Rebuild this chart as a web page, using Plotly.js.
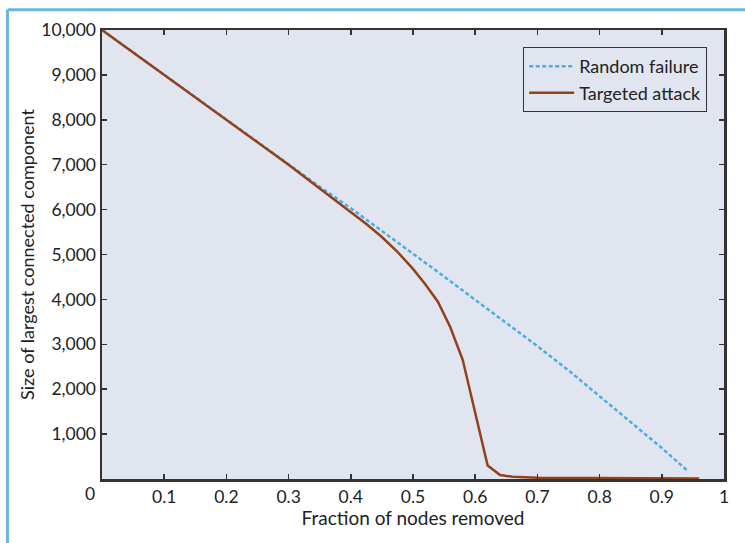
<!DOCTYPE html>
<html>
<head>
<meta charset="utf-8">
<script src="https://cdn.plot.ly/plotly-3.0.1.min.js"></script>
<style>html,body{margin:0;padding:0;background:#fff;}#chart{width:745px;height:543px;}</style>
</head>
<body>
<div id="chart"></div>
<script>
const randomX = [0, 0.05, 0.1, 0.15, 0.2, 0.25, 0.3, 0.35, 0.4, 0.45, 0.5, 0.55, 0.6, 0.65, 0.7, 0.75, 0.8, 0.85, 0.9, 0.94];
const randomY = [10000, 9500, 9000, 8500, 8000, 7500, 7000, 6510, 6030, 5530, 5020, 4510, 3990, 3480, 2960, 2420, 1850, 1270, 690, 200];

const targetX = [0, 0.1, 0.2, 0.3, 0.35, 0.4, 0.425, 0.45, 0.475, 0.5, 0.52, 0.54, 0.56, 0.58, 0.6, 0.62, 0.64, 0.66, 0.7, 0.8, 0.9, 0.96];
const targetY = [10000, 9000, 8000, 7000, 6470, 5950, 5680, 5390, 5060, 4680, 4330, 3950, 3380, 2650, 1450, 300, 90, 50, 30, 20, 15, 10];

const xTickVals = [0.1, 0.2, 0.3, 0.4, 0.5, 0.6, 0.7, 0.8, 0.9, 1];
const xTickText = ["0.1", "0.2", "0.3", "0.4", "0.5", "0.6", "0.7", "0.8", "0.9", "1"];
const yTickVals = [1000, 2000, 3000, 4000, 5000, 6000, 7000, 8000, 9000, 10000];
const yTickText = ["1,000", "2,000", "3,000", "4,000", "5,000", "6,000", "7,000", "8,000", "9,000", "10,000"];

const FONT = "Lato, 'Open Sans', sans-serif";
const FS = 19;
const TFS = 17.5;
const traces = [
  {x: randomX, y: randomY, type: 'scatter', mode: 'lines', name: 'Random failure',
   line: {color: '#4eaedb', width: 2.5, dash: '4px,2.5px'}},
  {x: targetX, y: targetY, type: 'scatter', mode: 'lines', name: 'Targeted attack',
   line: {color: '#93411a', width: 2.5}}
];
const layout = {
  width: 745, height: 543,
  margin: {l: 102, r: 21, t: 30, b: 64},
  paper_bgcolor: '#ffffff',
  plot_bgcolor: '#e1e5f0',
  font: {family: FONT, size: FS, color: '#222'},
  showlegend: true,
  legend: {x: 0.973, y: 0.962, xanchor: 'right', yanchor: 'top',
           bgcolor: '#e1e5f0', bordercolor: '#333', borderwidth: 1,
           tracegroupgap: 0, itemwidth: 45,
           font: {family: FONT, size: 18, color: '#222'}},
  xaxis: {range: [0, 1], tickvals: xTickVals, ticktext: xTickText,
          ticks: 'inside', ticklen: 5, tickwidth: 1.5, tickcolor: '#333',
          showline: true, linecolor: '#333', linewidth: 2.5, mirror: 'ticks',
          showgrid: false, zeroline: false, ticklabelstandoff: 0,
          tickfont: {family: FONT, size: TFS, color: '#222'},
          title: {text: 'Fraction of nodes removed', font: {family: FONT, size: FS, color: '#222'}, standoff: 6}},
  yaxis: {range: [0, 10000], tickvals: yTickVals, ticktext: yTickText,
          ticks: 'inside', ticklen: 5, tickwidth: 1.5, tickcolor: '#333',
          showline: true, linecolor: '#333', linewidth: 2.5, mirror: 'ticks',
          showgrid: false, zeroline: false, ticklabelstandoff: 0,
          tickfont: {family: FONT, size: TFS, color: '#222'},
          title: {text: 'Size of largest connected component', font: {family: FONT, size: 18, color: '#222'}, standoff: 2}},
  annotations: [
    {xref: 'paper', yref: 'paper', x: -0.019, y: 0, yshift: -14, text: '0', showarrow: false,
     xanchor: 'center', yanchor: 'middle', font: {family: FONT, size: TFS, color: '#222'}}
  ],
  shapes: [
    {type: 'line', xref: 'paper', yref: 'paper', x0: -0.152, x1: 1.04, y0: 1.045, y1: 1.045,
     line: {color: '#6ab7dc', width: 3}},
    {type: 'line', xref: 'paper', yref: 'paper', x0: -0.152, x1: -0.152, y0: 1.045, y1: -0.15,
     line: {color: '#6ab7dc', width: 3}}
  ]
};
Plotly.newPlot('chart', traces, layout, {displayModeBar: false, staticPlot: true});
</script>
</body>
</html>
